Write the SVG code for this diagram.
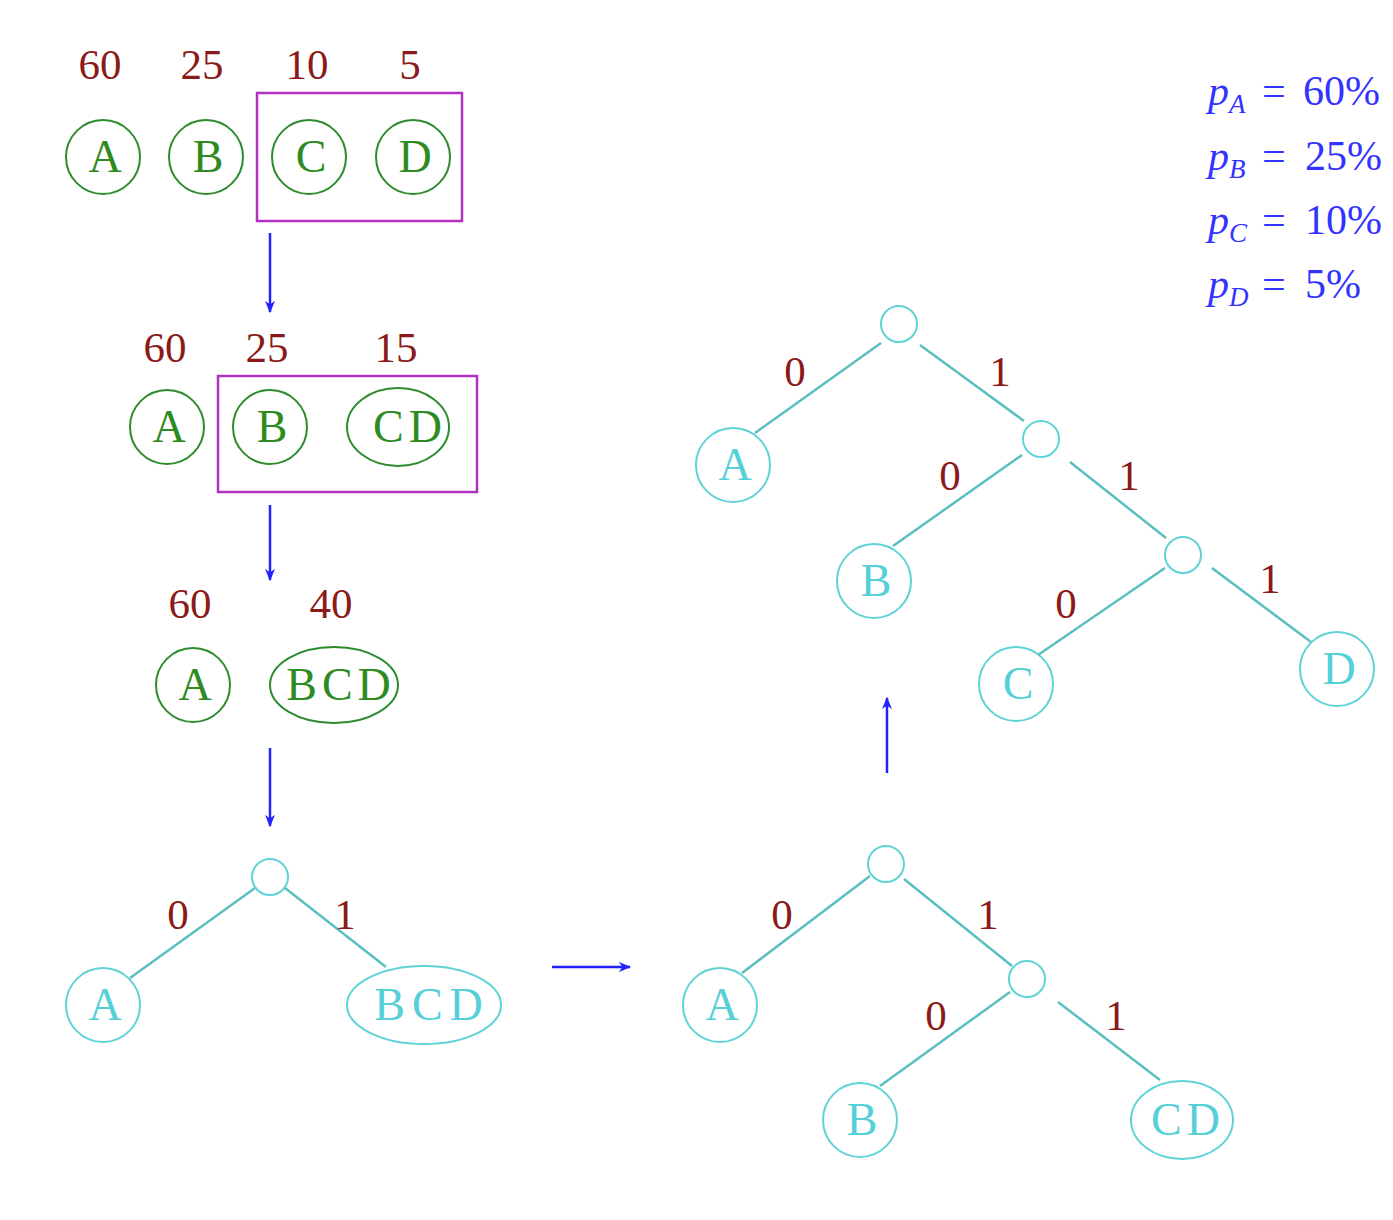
<svg xmlns="http://www.w3.org/2000/svg" width="1393" height="1220" viewBox="0 0 1393 1220">
<defs>
<marker id="ah" viewBox="0 0 10 10" refX="9" refY="5" markerWidth="5" markerHeight="5" orient="auto" markerUnits="strokeWidth">
<path d="M0,1 L10,5 L0,9 L3,5 Z" fill="#2222ff"/>
</marker>
</defs>
<rect width="1393" height="1220" fill="#fff"/>

<!-- Row 1 -->
<g id="row1-labels" fill="#8b1a1a" text-anchor="middle">
<text font-family="Liberation Serif" font-size="43" x="100" y="79">60</text>
<text font-family="Liberation Serif" font-size="43" x="202" y="79">25</text>
<text font-family="Liberation Serif" font-size="43" x="307" y="79">10</text>
<text font-family="Liberation Serif" font-size="43" x="410" y="79">5</text>
</g>
<g id="r1-A"><circle fill="none" stroke="#2e8b2e" stroke-width="2" cx="103" cy="157" r="37"/><text font-family="Liberation Serif" font-size="46" fill="#2e8b22" text-anchor="middle" x="105" y="172">A</text></g>
<g id="r1-B"><circle fill="none" stroke="#2e8b2e" stroke-width="2" cx="206" cy="157" r="37"/><text font-family="Liberation Serif" font-size="46" fill="#2e8b22" text-anchor="middle" x="208" y="172">B</text></g>
<g id="r1-C"><circle fill="none" stroke="#2e8b2e" stroke-width="2" cx="309" cy="157" r="37"/><text font-family="Liberation Serif" font-size="46" fill="#2e8b22" text-anchor="middle" x="311" y="172">C</text></g>
<g id="r1-D"><circle fill="none" stroke="#2e8b2e" stroke-width="2" cx="413" cy="157" r="37"/><text font-family="Liberation Serif" font-size="46" fill="#2e8b22" text-anchor="middle" x="415" y="172">D</text></g>
<g id="r1-box"><rect fill="none" stroke="#b030c0" stroke-width="2.5" x="257" y="93" width="205" height="128"/></g>

<!-- Row 2 -->
<g id="row2-labels" fill="#8b1a1a" text-anchor="middle">
<text font-family="Liberation Serif" font-size="43" x="165" y="362">60</text>
<text font-family="Liberation Serif" font-size="43" x="267" y="362">25</text>
<text font-family="Liberation Serif" font-size="43" x="396" y="362">15</text>
</g>
<g id="r2-A"><circle fill="none" stroke="#2e8b2e" stroke-width="2" cx="167" cy="427" r="37"/><text font-family="Liberation Serif" font-size="46" fill="#2e8b22" text-anchor="middle" x="169" y="442">A</text></g>
<g id="r2-B"><circle fill="none" stroke="#2e8b2e" stroke-width="2" cx="270" cy="427" r="37"/><text font-family="Liberation Serif" font-size="46" fill="#2e8b22" text-anchor="middle" x="272" y="442">B</text></g>
<g id="r2-CD"><ellipse fill="none" stroke="#2e8b2e" stroke-width="2" cx="398" cy="427" rx="51" ry="39"/><text font-family="Liberation Serif" font-size="46" fill="#2e8b22" text-anchor="middle" x="410" y="442" letter-spacing="5">CD</text></g>
<g id="r2-box"><rect fill="none" stroke="#b030c0" stroke-width="2.5" x="218" y="376" width="259" height="116"/></g>

<!-- Row 3 -->
<g id="row3-labels" fill="#8b1a1a" text-anchor="middle">
<text font-family="Liberation Serif" font-size="43" x="190" y="618">60</text>
<text font-family="Liberation Serif" font-size="43" x="331" y="618">40</text>
</g>
<g id="r3-A"><circle fill="none" stroke="#2e8b2e" stroke-width="2" cx="193" cy="685" r="37"/><text font-family="Liberation Serif" font-size="46" fill="#2e8b22" text-anchor="middle" x="195" y="700">A</text></g>
<g id="r3-BCD"><ellipse fill="none" stroke="#2e8b2e" stroke-width="2" cx="334" cy="685" rx="64" ry="38"/><text font-family="Liberation Serif" font-size="46" fill="#2e8b22" text-anchor="middle" x="341" y="700" letter-spacing="5">BCD</text></g>

<!-- Probabilities -->
<g id="probs" fill="#3333ff">
<text font-family="Liberation Serif" font-size="42" x="1208" y="105"><tspan font-style="italic">p</tspan><tspan font-style="italic" font-size="27" dy="8">A</tspan><tspan dy="-8" x="1262">=</tspan><tspan x="1303">60%</tspan></text>
<text font-family="Liberation Serif" font-size="42" x="1208" y="170"><tspan font-style="italic">p</tspan><tspan font-style="italic" font-size="27" dy="8">B</tspan><tspan dy="-8" x="1262">=</tspan><tspan x="1305">25%</tspan></text>
<text font-family="Liberation Serif" font-size="42" x="1208" y="234"><tspan font-style="italic">p</tspan><tspan font-style="italic" font-size="27" dy="8">C</tspan><tspan dy="-8" x="1262">=</tspan><tspan x="1305">10%</tspan></text>
<text font-family="Liberation Serif" font-size="42" x="1208" y="298"><tspan font-style="italic">p</tspan><tspan font-style="italic" font-size="27" dy="8">D</tspan><tspan dy="-8" x="1262">=</tspan><tspan x="1305">5%</tspan></text>
</g>

<!-- Tree 1 nodes -->
<g id="t1-root"><circle fill="none" stroke="#5fd3d8" stroke-width="2" cx="270" cy="877" r="18"/></g>
<g id="t1-A"><circle fill="none" stroke="#5fd3d8" stroke-width="2" cx="103" cy="1005" r="37"/><text font-family="Liberation Serif" font-size="46" fill="#55d0d8" text-anchor="middle" x="105" y="1020">A</text></g>
<g id="t1-BCD"><ellipse fill="none" stroke="#5fd3d8" stroke-width="2" cx="424" cy="1005" rx="77" ry="39"/><text font-family="Liberation Serif" font-size="46" fill="#55d0d8" text-anchor="middle" x="432" y="1020" letter-spacing="7">BCD</text></g>

<!-- Tree 2 nodes -->
<g id="t2-root"><circle fill="none" stroke="#5fd3d8" stroke-width="2" cx="886" cy="864" r="18"/></g>
<g id="t2-A"><circle fill="none" stroke="#5fd3d8" stroke-width="2" cx="720" cy="1005" r="37"/><text font-family="Liberation Serif" font-size="46" fill="#55d0d8" text-anchor="middle" x="722" y="1020">A</text></g>
<g id="t2-n1"><circle fill="none" stroke="#5fd3d8" stroke-width="2" cx="1027" cy="979" r="18"/></g>
<g id="t2-B"><circle fill="none" stroke="#5fd3d8" stroke-width="2" cx="860" cy="1120" r="37"/><text font-family="Liberation Serif" font-size="46" fill="#55d0d8" text-anchor="middle" x="862" y="1135">B</text></g>
<g id="t2-CD"><ellipse fill="none" stroke="#5fd3d8" stroke-width="2" cx="1182" cy="1120" rx="51" ry="39"/><text font-family="Liberation Serif" font-size="46" fill="#55d0d8" text-anchor="middle" x="1188" y="1135" letter-spacing="5">CD</text></g>

<!-- Tree 3 nodes -->
<g id="t3-root"><circle fill="none" stroke="#5fd3d8" stroke-width="2" cx="899" cy="324" r="18"/></g>
<g id="t3-A"><circle fill="none" stroke="#5fd3d8" stroke-width="2" cx="733" cy="465" r="37"/><text font-family="Liberation Serif" font-size="46" fill="#55d0d8" text-anchor="middle" x="735" y="480">A</text></g>
<g id="t3-n1"><circle fill="none" stroke="#5fd3d8" stroke-width="2" cx="1041" cy="439" r="18"/></g>
<g id="t3-B"><circle fill="none" stroke="#5fd3d8" stroke-width="2" cx="874" cy="581" r="37"/><text font-family="Liberation Serif" font-size="46" fill="#55d0d8" text-anchor="middle" x="876" y="596">B</text></g>
<g id="t3-n2"><circle fill="none" stroke="#5fd3d8" stroke-width="2" cx="1183" cy="555" r="18"/></g>
<g id="t3-C"><circle fill="none" stroke="#5fd3d8" stroke-width="2" cx="1016" cy="684" r="37"/><text font-family="Liberation Serif" font-size="46" fill="#55d0d8" text-anchor="middle" x="1018" y="699">C</text></g>
<g id="t3-D"><circle fill="none" stroke="#5fd3d8" stroke-width="2" cx="1337" cy="669" r="37"/><text font-family="Liberation Serif" font-size="46" fill="#55d0d8" text-anchor="middle" x="1339" y="684">D</text></g>

<!-- Connectors -->
<g id="connectors" fill="none">
<g stroke="#2222ff" stroke-width="2.5" marker-end="url(#ah)">
<line x1="270" y1="233" x2="270" y2="312"/>
<line x1="270" y1="505" x2="270" y2="580"/>
<line x1="270" y1="748" x2="270" y2="826"/>
<line x1="552" y1="967" x2="630" y2="967"/>
<line x1="887" y1="773" x2="887" y2="698"/>
</g>
<g stroke="#5bbfbf" stroke-width="2.5">
<line x1="255" y1="888" x2="130" y2="978"/>
<line x1="285" y1="888" x2="386" y2="967"/>
<line x1="870" y1="876" x2="742" y2="973"/>
<line x1="904" y1="879" x2="1012" y2="966"/>
<line x1="1010" y1="992" x2="880" y2="1086"/>
<line x1="1058" y1="1002" x2="1160" y2="1080"/>
<line x1="881" y1="343" x2="755" y2="433"/>
<line x1="920" y1="345" x2="1024" y2="421"/>
<line x1="1022" y1="455" x2="893" y2="546"/>
<line x1="1070" y1="462" x2="1166" y2="538"/>
<line x1="1165" y1="568" x2="1038" y2="655"/>
<line x1="1212" y1="568" x2="1311" y2="642"/>
</g>
</g>

<!-- Edge labels -->
<g id="edge-labels" fill="#8b1a1a" text-anchor="middle">
<text font-family="Liberation Serif" font-size="43" x="178" y="929">0</text>
<text font-family="Liberation Serif" font-size="43" x="345" y="929">1</text>
<text font-family="Liberation Serif" font-size="43" x="782" y="929">0</text>
<text font-family="Liberation Serif" font-size="43" x="988" y="929">1</text>
<text font-family="Liberation Serif" font-size="43" x="936" y="1030">0</text>
<text font-family="Liberation Serif" font-size="43" x="1116" y="1030">1</text>
<text font-family="Liberation Serif" font-size="43" x="795" y="386">0</text>
<text font-family="Liberation Serif" font-size="43" x="1000" y="386">1</text>
<text font-family="Liberation Serif" font-size="43" x="950" y="490">0</text>
<text font-family="Liberation Serif" font-size="43" x="1129" y="490">1</text>
<text font-family="Liberation Serif" font-size="43" x="1066" y="618">0</text>
<text font-family="Liberation Serif" font-size="43" x="1270" y="593">1</text>
</g>
</svg>
